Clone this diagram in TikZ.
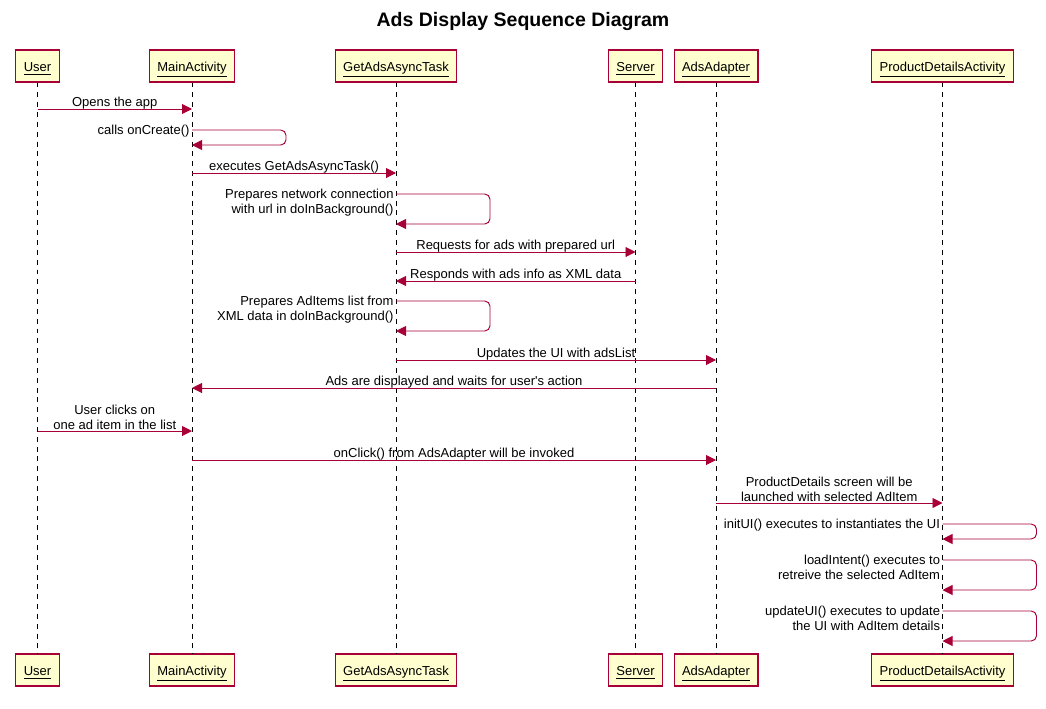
\documentclass[tikz,border=0pt]{standalone}
\usepackage{fontspec}
\setmainfont{Liberation Sans}
\usetikzlibrary{arrows.meta}
\definecolor{Rim}{HTML}{A80036}
\definecolor{Paper}{HTML}{FEFECE}

\begin{document}
\begin{tikzpicture}[x=1cm,y=1cm,font=\fontsize{7.4}{8.5}\selectfont,
    actor/.style={draw=Rim,fill=Paper,line width=.6pt,minimum height=.64cm,inner xsep=.16cm,text height=6.2pt,text depth=0pt},
    life/.style={dash pattern=on 2.8pt off 2.8pt,line width=.55pt},
    msg/.style={-{Triangle[length=.2cm,width=.2cm]},Rim,line width=.55pt},
    selfmsg/.style={msg,rounded corners=3pt},
    lbl/.style={above,inner sep=1pt,align=center,text=black,yshift=-.05cm},
    lbltwo/.style={above,inner sep=1pt,align=center,text=black,yshift=-.01cm},
    slbl/.style={anchor=base east,align=right,inner sep=0pt,text=black,xshift=-.04cm,yshift=-.09cm},
    slbltwo/.style={anchor=base east,align=right,inner sep=0pt,text=black,xshift=-.04cm,yshift=-.39cm}]
        \useasboundingbox(0,0)rectangle(20.92,-14.16);
        \node[font=\fontsize{11.1}{13}\selectfont\bfseries](title)at(10.46,-.42){Ads Display Sequence Diagram};
        % participants, top row
        \node[actor](user)at(.75,-1.32){\underline{User}};
        \node[actor](main)at(3.84,-1.32){\underline{MainActivity}};
        \node[actor](task)at(7.92,-1.32){\underline{GetAdsAsyncTask}};
        \node[actor](server)at(12.71,-1.32){\underline{Server}};
        \node[actor](adapter)at(14.32,-1.32){\underline{AdsAdapter}};
        \node[actor](details)at(18.85,-1.32){\underline{ProductDetailsActivity}};
        % participants, bottom row
        \node[actor](userB)at(.75,-13.4){\underline{User}};
        \node[actor](mainB)at(3.84,-13.4){\underline{MainActivity}};
        \node[actor](taskB)at(7.92,-13.4){\underline{GetAdsAsyncTask}};
        \node[actor](serverB)at(12.71,-13.4){\underline{Server}};
        \node[actor](adapterB)at(14.32,-13.4){\underline{AdsAdapter}};
        \node[actor](detailsB)at(18.85,-13.4){\underline{ProductDetailsActivity}};
        % lifelines
        \draw[life](user)--(userB);
        \draw[life](main)--(mainB);
        \draw[life](task)--(taskB);
        \draw[life](server)--(serverB);
        \draw[life](adapter)--(adapterB);
        \draw[life](details)--(detailsB);
        % messages
        \draw[msg](user|-0,-2.18)--node[lbl](m1){Opens the app}(main|-0,-2.18);
        \draw[selfmsg](main|-0,-2.6)node[slbl](m2){calls onCreate()}--++(1.88,0)--++(0,-.3)--(main|-0,-2.9);
        \draw[msg](main|-0,-3.46)--node[lbl](m3){executes GetAdsAsyncTask()}(task|-0,-3.46);
        \draw[selfmsg](task|-0,-3.88)node[slbltwo](m4){Prepares network connection\\with url in doInBackground()}--++(1.88,0)--++(0,-.6)--(task|-0,-4.48);
        \draw[msg](task|-0,-5.04)--node[lbl](m5){Requests for ads with prepared url}(server|-0,-5.04);
        \draw[msg](server|-0,-5.62)--node[lbl](m6){Responds with ads info as XML data}(task|-0,-5.62);
        \draw[selfmsg](task|-0,-6.02)node[slbltwo](m7){Prepares AdItems list from\\XML data in doInBackground()}--++(1.88,0)--++(0,-.6)--(task|-0,-6.62);
        \draw[msg](task|-0,-7.2)--node[lbl](m8){Updates the UI with adsList}(adapter|-0,-7.2);
        \draw[msg](adapter|-0,-7.76)--node[lbl](m9){Ads are displayed and waits for user\textquotesingle s action}(main|-0,-7.76);
        \draw[msg](user|-0,-8.62)--node[lbltwo](m10){User clicks on\\one ad item in the list}(main|-0,-8.62);
        \draw[msg](main|-0,-9.2)--node[lbl](m11){onClick() from AdsAdapter will be invoked}(adapter|-0,-9.2);
        \draw[msg](adapter|-0,-10.06)--node[lbltwo](m12){ProductDetails screen will be\\launched with selected AdItem}(details|-0,-10.06);
        \draw[selfmsg](details|-0,-10.48)node[slbl](m13){initUI() executes to instantiates the UI}--++(1.88,0)--++(0,-.3)--(details|-0,-10.78);
        \draw[selfmsg](details|-0,-11.2)node[slbltwo](m14){loadIntent() executes to\\retreive the selected AdItem}--++(1.88,0)--++(0,-.6)--(details|-0,-11.8);
        \draw[selfmsg](details|-0,-12.22)node[slbltwo](m15){updateUI() executes to update\\the UI with AdItem details}--++(1.88,0)--++(0,-.6)--(details|-0,-12.82);
      \end{tikzpicture}
\end{document}
